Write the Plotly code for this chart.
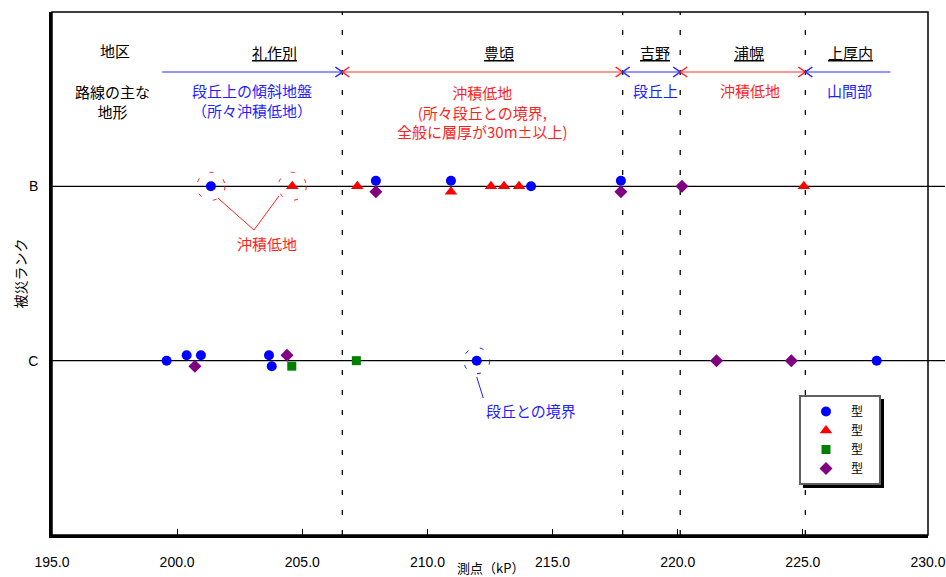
import plotly.graph_objects as go

# ---------------- data ----------------
x_min, x_max = 195.0, 230.0
x_ticks = [195, 200, 205, 210, 215, 220, 225, 230]
rank_value = {"C": 1, "B": 2}
rank_ticks = ["C", "B"]

# type 1 (blue circle)
t1_kp = [201.35, 207.94, 210.94, 214.14, 217.73, 199.58, 200.38, 200.95, 203.67, 203.78, 211.97, 227.95]
t1_rank = ["B", "B", "B", "B", "B", "C", "C", "C", "C", "C", "C", "C"]
t1_dodge = [0, 1, 1, 0, 1, 0, 1, 1, 1, -1, 0, 0]
# type 2 (red triangle)
t2_kp = [204.6, 207.2, 210.94, 212.54, 213.06, 213.66, 225.04]
t2_rank = ["B", "B", "B", "B", "B", "B", "B"]
t2_dodge = [0, 0, -1, 0, 0, 0, 0]
# type 3 (green square)
t3_kp = [204.58, 207.16]
t3_rank = ["C", "C"]
t3_dodge = [-1, 0]
# type 4 (purple diamond)
t4_kp = [207.94, 217.73, 220.17, 200.71, 204.39, 221.55, 224.54]
t4_rank = ["B", "B", "B", "C", "C", "C", "C"]
t4_dodge = [-1, -1, 0, -1, 1, 0, 0]

type_names = ["型", "型", "型", "型"]

districts = ["礼作別", "豊頃", "吉野", "浦幌", "上厚内"]
district_label_kp = [203.9, 212.85, 219.1, 222.85, 226.9]
boundaries = [206.6, 217.8, 220.1, 225.1]
route_start, route_end = 199.4, 228.5
terrain = ["段丘上の傾斜地盤<br>（所々沖積低地）",
           "沖積低地<br>(所々段丘との境界,<br>全般に層厚が30m±以上)",
           "段丘上", "沖積低地", "山間部"]
terrain_label_kp = [203.0, 212.2, 219.1, 222.9, 226.85]
terrain_kind = ["terrace", "lowland", "terrace", "lowland", "terrace"]

# ---------------- layout helpers ----------------
W, H = 946, 577
ML, MR, MT, MB = 52, 18, 12, 42
PW, PH = W - ML - MR, H - MT - MB
y_lo, y_hi = 0.0, 3.0
dodge_px = 5.5

def py(p):  # pixel row -> data y
    return y_hi - (p - MT) / PH * (y_hi - y_lo)

def dy(px):
    return px / PH * (y_hi - y_lo)

def dx(px):
    return px / PW * (x_max - x_min)

def pxx(p):  # pixel col -> paper x
    return (p - ML) / PW

def pyy(p):  # pixel row -> paper y
    return (MT + PH - p) / PH

BLUE_T, RED_T = "#1f1fff", "#ff1f1f"
BLUE_L, RED_L = "#7070ff", "#ff7575"
kind_text = {"terrace": BLUE_T, "lowland": RED_T}
kind_line = {"terrace": BLUE_L, "lowland": RED_L}
FONT = "Noto Sans CJK JP"

fig = go.Figure()

def add_type(kp, rank, dodge, name, symbol, color, size):
    ys = [rank_value[r] + dy(d * dodge_px) for r, d in zip(rank, dodge)]
    fig.add_trace(go.Scatter(x=kp, y=ys, mode="markers", name=name,
                             marker=dict(symbol=symbol, color=color, size=size,
                                         line=dict(width=0)),
                             cliponaxis=False))

# route arrows
y_arrow = py(72)
segs = [route_start] + boundaries + [route_end]
for i in range(len(districts)):
    x0, x1 = segs[i], segs[i + 1]
    col = kind_line[terrain_kind[i]]
    head = kind_text[terrain_kind[i]]
    fig.add_trace(go.Scatter(x=[x0, x1], y=[y_arrow, y_arrow], mode="lines",
                             line=dict(color=col, width=1.5), showlegend=False,
                             hoverinfo="skip"))
    hx, hy = [], []
    if i > 0:  # head at start, pointing left
        hx += [x0 + dx(7), x0, x0 + dx(7), None]
        hy += [y_arrow + dy(5), y_arrow, y_arrow - dy(5), None]
    if i < len(districts) - 1:  # head at end, pointing right
        hx += [x1 - dx(7), x1, x1 - dx(7), None]
        hy += [y_arrow + dy(5), y_arrow, y_arrow - dy(5), None]
    fig.add_trace(go.Scatter(x=hx, y=hy, mode="lines", line=dict(color=head, width=1.5),
                             showlegend=False, hoverinfo="skip"))

add_type(t1_kp, t1_rank, t1_dodge, type_names[0], "circle", "#0000ff", 10)
add_type(t2_kp, t2_rank, t2_dodge, type_names[1], "triangle-up", "#ff0000", 11)
add_type(t3_kp, t3_rank, t3_dodge, type_names[2], "square", "#008000", 9)
add_type(t4_kp, t4_rank, t4_dodge, type_names[3], "diamond", "#800080", 10)

shapes = []
# rank lines
for r in rank_ticks:
    shapes.append(dict(type="line", xref="paper", yref="y", x0=0, x1=pxx(W - 1),
                       y0=rank_value[r], y1=rank_value[r], line=dict(color="black", width=1.3),
                       layer="below"))
# boundary dashed lines
for b in boundaries:
    shapes.append(dict(type="line", xref="x", yref="y", x0=b, x1=b, y0=y_lo, y1=y_hi,
                       line=dict(color="black", width=1.3, dash="5px,15px"), layer="below"))
# frame
shapes.append(dict(type="rect", xref="paper", yref="paper", x0=0, x1=1, y0=0, y1=1,
                   line=dict(color="black", width=1.5)))
# dashed highlight circles
def circ(xc, yc, rpx, color):
    return dict(type="circle", xref="x", yref="y", x0=xc - dx(rpx), x1=xc + dx(rpx),
                y0=yc - dy(rpx), y1=yc + dy(rpx), line=dict(color=color, width=1, dash="4px,12px"))
shapes.append(circ(t1_kp[0], rank_value["B"], 14, RED_T))
shapes.append(circ(t2_kp[0], rank_value["B"], 14, RED_T))
shapes.append(circ(t1_kp[10], rank_value["C"], 13, BLUE_T))
# leader lines
note_red_kp = 203.07
shapes.append(dict(type="line", x0=201.63, y0=py(198), x1=note_red_kp, y1=py(230),
                   line=dict(color=RED_T, width=1)))
shapes.append(dict(type="line", x0=204.07, y0=py(196), x1=note_red_kp, y1=py(230),
                   line=dict(color=RED_T, width=1)))
shapes.append(dict(type="line", x0=211.97, y0=py(377), x1=212.23, y1=py(398),
                   line=dict(color=BLUE_T, width=1)))
# legend shadow
LG_L, LG_T, LG_R, LG_B = 799, 395, 880, 484
shapes.append(dict(type="rect", xref="paper", yref="paper",
                   x0=pxx(LG_L + 4), x1=pxx(LG_R + 4), y0=pyy(LG_B + 4), y1=pyy(LG_T + 4),
                   fillcolor="black", line=dict(width=0), layer="above"))

ann = []
ann.append(dict(text="地区", x=197.5, y=py(50), showarrow=False, font=dict(size=15, color="black")))
ann.append(dict(text="路線の主な<br>地形", x=197.4, y=py(101), showarrow=False,
                font=dict(size=15, color="black")))
for name, xk in zip(districts, district_label_kp):
    ann.append(dict(text=f"<u>{name}</u>", x=xk, y=py(52), showarrow=False,
                    font=dict(size=15, color="black")))
for txt, xk, kind in zip(terrain, terrain_label_kp, terrain_kind):
    top = 80 if txt.count("<br>") == 2 else 78
    ann.append(dict(text=txt, x=xk, y=py(top), yanchor="top", showarrow=False,
                    font=dict(size=15, color=kind_text[kind])))
ann.append(dict(text="沖積低地", x=203.6, y=py(243), showarrow=False, font=dict(size=15, color=RED_T)))
ann.append(dict(text="段丘との境界", x=214.15, y=py(410), showarrow=False, font=dict(size=15, color=BLUE_T)))
ann.append(dict(text="被災ランク", xref="paper", yref="paper", x=pxx(19), y=0.5,
                xanchor="center", yanchor="middle",
                textangle=-90, showarrow=False, font=dict(size=14, color="black")))
ann.append(dict(text="測点（kP）", xref="paper", yref="paper", x=0.5, y=pyy(568),
                xanchor="center", yanchor="middle",
                showarrow=False, font=dict(size=13, color="black")))

nb = "\u00a0"
fig.update_layout(
    width=W, height=H, margin=dict(l=ML, r=MR, t=MT, b=MB, autoexpand=False),
    paper_bgcolor="white", plot_bgcolor="white",
    font=dict(family=FONT, size=14, color="black"),
    shapes=shapes, annotations=ann,
    showlegend=True,
    legend=dict(x=pxx(LG_L), y=pyy(LG_T), xanchor="left", yanchor="top",
                bgcolor="white", bordercolor="#606060", borderwidth=2,
                font=dict(size=12, family=FONT), itemwidth=40, tracegroupgap=0),
    xaxis=dict(range=[x_min, x_max], tickvals=x_ticks, ticktext=[f"{v:.1f}" for v in x_ticks],
               showgrid=False, zeroline=False, showline=True, linecolor="black", linewidth=2.5,
               ticks="inside", ticklen=6, tickcolor="black", tickwidth=1.3, automargin=False,
               tickfont=dict(family="Liberation Sans", size=14), ticklabelstandoff=12),
    yaxis=dict(range=[y_lo, y_hi], tickvals=[rank_value[r] for r in rank_ticks], ticktext=rank_ticks,
               showgrid=False, zeroline=False, showline=True, linecolor="black", linewidth=2.5,
               ticks="", automargin=False, tickfont=dict(family="Liberation Sans", size=14),
               ticklabelstandoff=8),
)
for tr in fig.data:
    if tr.showlegend is not False and tr.name:
        tr.name = tr.name + nb * 4

fig.write_html("out.html")
